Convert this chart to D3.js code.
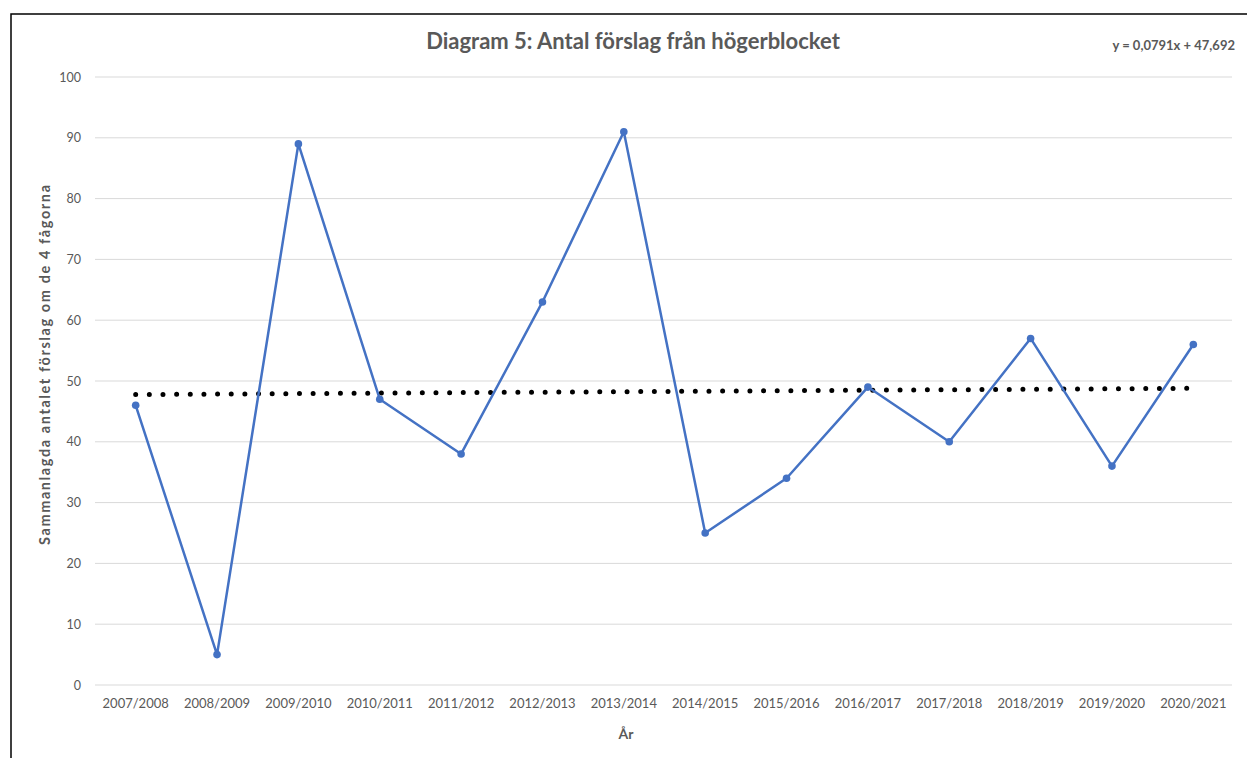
<!DOCTYPE html>
<html><head><meta charset="utf-8">
<script src="https://cdn.jsdelivr.net/npm/d3@7"></script>
<style>html,body{margin:0;padding:0;background:#fff;}svg{display:block;}</style>
</head><body>
<svg id="c" width="1247" height="758"></svg>
<script>
const categories = ["2007/2008","2008/2009","2009/2010","2010/2011","2011/2012","2012/2013","2013/2014","2014/2015","2015/2016","2016/2017","2017/2018","2018/2019","2019/2020","2020/2021"];
const values = [46,5,89,47,38,63,91,25,34,49,40,57,36,56];
const yTicks = [0,10,20,30,40,50,60,70,80,90,100];
const trendSlope = 0.0791;
const trendIntercept = 47.692;
const titleText = "Diagram 5: Antal förslag från högerblocket";
const equationText = "y = 0,0791x + 47,692";
const yAxisTitle = "Sammanlagda antalet förslag om de 4 fågorna";
const xAxisTitle = "År";

(function(){
const svg = d3.select("#c");
const font = "Lato, 'Open Sans', sans-serif";
const grey = "#595959";
const pLeft = 95, pRight = 1234, pTop = 77, pBottom = 685;

svg.append("rect").attr("x",11).attr("y",14).attr("width",1300).attr("height",800)
  .attr("fill","#fff").attr("stroke","#000").attr("stroke-width",1.5);

const x = d3.scaleBand().domain(categories).range([pLeft,pRight]);
const y = d3.scaleLinear().domain([0,100]).range([pBottom,pTop]);

svg.append("g").selectAll("line").data(yTicks).join("line")
  .attr("x1",pLeft).attr("x2",1232).attr("y1",d=>y(d)).attr("y2",d=>y(d))
  .attr("stroke","#d9d9d9").attr("stroke-width",1);

const yAxis = d3.axisLeft(y).tickValues(yTicks).tickSize(0).tickPadding(0);
const gy = svg.append("g").attr("transform","translate(81,0)").call(yAxis);
gy.select(".domain").remove();
gy.selectAll("text").attr("font-family",font).attr("font-size",12.5).attr("fill",grey);

const xAxis = d3.axisBottom(x).tickSize(0).tickPadding(14);
const gx = svg.append("g").attr("transform",`translate(0,${pBottom})`).call(xAxis);
gx.select(".domain").remove();
gx.selectAll("text").attr("font-family",font).attr("font-size",13).attr("fill",grey);

const cx = d => x(d) + x.bandwidth()/2;

const tx0 = cx(categories[0]), tx1 = cx(categories[categories.length-1]);
svg.append("line")
  .attr("x1",tx0).attr("x2",tx1)
  .attr("y1",y(trendIntercept + trendSlope*1))
  .attr("y2",y(trendIntercept + trendSlope*categories.length))
  .attr("stroke","#000").attr("stroke-width",5).attr("stroke-linecap","round")
  .attr("stroke-dasharray","0 13.65");

const line = d3.line().x((d,i)=>cx(categories[i])).y(d=>y(d));
svg.append("path").datum(values).attr("d",line).attr("fill","none")
  .attr("stroke","#4472C4").attr("stroke-width",2.5).attr("stroke-linejoin","round");
svg.append("g").selectAll("circle").data(values).join("circle")
  .attr("cx",(d,i)=>cx(categories[i])).attr("cy",d=>y(d)).attr("r",3.8)
  .attr("fill","#4472C4");

svg.append("text").attr("x",633).attr("y",49).attr("text-anchor","middle")
  .attr("font-family",font).attr("font-weight","bold").attr("font-size",22)
  .attr("fill",grey).text(titleText);
svg.append("text").attr("x",1235).attr("y",50).attr("text-anchor","end")
  .attr("font-family",font).attr("font-weight","bold").attr("font-size",13)
  .attr("fill",grey).text(equationText);
svg.append("text").attr("x",626).attr("y",739).attr("text-anchor","middle")
  .attr("font-family",font).attr("font-weight","bold").attr("font-size",14)
  .attr("fill",grey).text(xAxisTitle);
svg.append("text").attr("transform","translate(50,365) rotate(-90)").attr("text-anchor","middle")
  .attr("font-family",font).attr("font-weight","bold").attr("font-size",14.5)
  .attr("textLength",360).attr("lengthAdjust","spacing")
  .attr("fill",grey).text(yAxisTitle);
})();
</script>
</body></html>
